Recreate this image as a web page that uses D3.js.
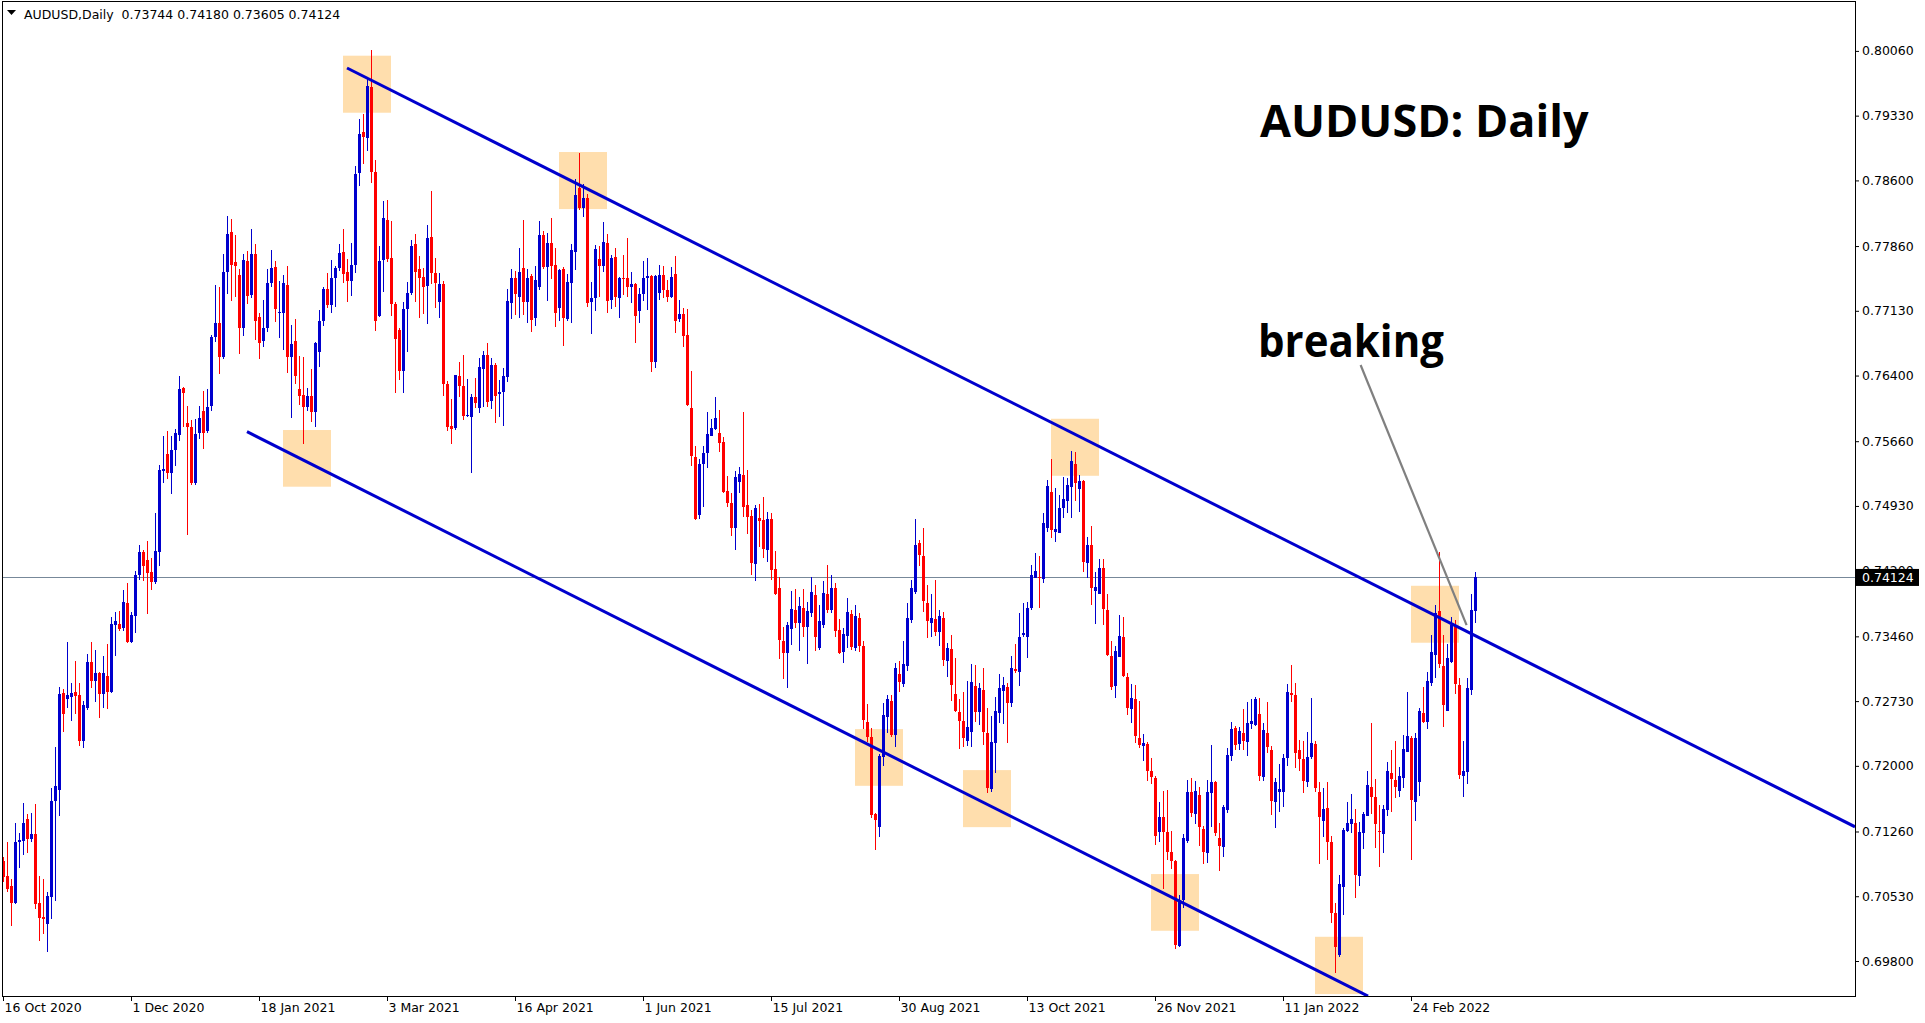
<!DOCTYPE html>
<html>
<head>
<meta charset="utf-8">
<script src="https://cdn.jsdelivr.net/npm/d3@7"></script>
<style>
  html, body { margin: 0; padding: 0; background: #fff; }
  svg { display: block; }
  text { white-space: pre; }
</style>
</head>
<body>
<svg id="chart" width="1925" height="1023"></svg>
<script>
// AUDUSD daily, one bar per trading day (index 0 = 16 Oct 2020)
const symbol = "AUDUSD,Daily";

const dateIdx = [0, 32, 64, 96, 128, 160, 192, 224, 256, 288, 320, 352];
const dateLabels = ["16 Oct 2020", "1 Dec 2020", "18 Jan 2021", "3 Mar 2021", "16 Apr 2021", "1 Jun 2021",
  "15 Jul 2021", "30 Aug 2021", "13 Oct 2021", "26 Nov 2021", "11 Jan 2022", "24 Feb 2022"];

const priceTicks = [0.80060, 0.79330, 0.78600, 0.77860, 0.77130, 0.76400, 0.75660, 0.74930,
  0.74200, 0.73460, 0.72730, 0.72000, 0.71260, 0.70530, 0.69800];

const opens = [
  0.70925,0.70756,0.70643,0.70454,0.71147,0.71155,0.71401,0.71179,0.71227,0.70454,
  0.70294,0.70220,0.70523,0.71609,0.71731,0.72818,0.72757,0.72778,0.72838,0.72798,
  0.72283,0.72657,0.73169,0.72959,0.73047,0.72806,0.73011,0.72838,0.73592,0.73600,
  0.73554,0.73836,0.73394,0.73692,0.74155,0.74409,0.74320,0.74184,0.74074,0.74409,
  0.75327,0.75516,0.75307,0.75560,0.75729,0.76263,0.75861,0.75823,0.75194,0.75755,
  0.76000,0.75778,0.76056,0.76838,0.76989,0.76612,0.77571,0.78022,0.77683,0.77533,
  0.76939,0.77691,0.77308,0.77770,0.77063,0.76793,0.76932,0.77447,0.77620,0.77108,
  0.77102,0.77421,0.76605,0.76789,0.76248,0.76180,0.76048,0.76169,0.75985,0.76662,
  0.77015,0.77379,0.77192,0.77503,0.77609,0.77793,0.77564,0.77469,0.77646,0.78687,
  0.79142,0.79081,0.79656,0.78698,0.77071,0.77702,0.78153,0.77728,0.77203,0.76913,
  0.76451,0.77147,0.77327,0.77883,0.77598,0.77507,0.77413,0.77958,0.77553,0.77232,
  0.77432,0.76301,0.75831,0.75805,0.76395,0.76285,0.75947,0.75936,0.76155,0.76037,
  0.76470,0.76631,0.76116,0.76519,0.76192,0.76211,0.76387,0.77221,0.77503,0.77289,
  0.77616,0.77232,0.77522,0.77052,0.77401,0.77984,0.77627,0.77891,0.77646,0.77165,
  0.77601,0.77037,0.77447,0.77796,0.78518,0.78285,0.78398,0.77232,0.77271,0.77710,
  0.77638,0.77898,0.77251,0.77740,0.77277,0.77503,0.77503,0.77401,0.77432,0.77131,
  0.77319,0.77503,0.77526,0.76556,0.77327,0.77533,0.77364,0.77289,0.77545,0.77037,
  0.77094,0.76857,0.76037,0.75478,0.74827,0.75402,0.75523,0.75722,0.75797,0.75749,
  0.75654,0.75101,0.74959,0.74684,0.75203,0.75278,0.74940,0.74816,0.74271,0.74797,
  0.74771,0.74433,0.74782,0.74219,0.74008,0.73407,0.73275,0.73542,0.73756,0.73613,
  0.73775,0.73568,0.73726,0.73925,0.73331,0.73587,0.73937,0.73756,0.74008,0.73531,
  0.73286,0.73467,0.73711,0.73324,0.73663,0.73350,0.72490,0.72321,0.71456,0.71313,
  0.72095,0.72553,0.72730,0.72347,0.73035,0.72922,0.73128,0.73643,0.73956,0.74508,
  0.74365,0.73839,0.73613,0.73655,0.73505,0.73669,0.73185,0.73317,0.72809,0.72603,
  0.72505,0.72279,0.72384,0.72903,0.72603,0.72854,0.72373,0.71735,0.72253,0.72591,
  0.72846,0.72891,0.72704,0.73091,0.73061,0.73471,0.73455,0.73775,0.74121,0.74132,
  0.74102,0.74677,0.75090,0.74639,0.74621,0.74903,0.74989,0.75147,0.75402,0.75121,
  0.75211,0.74283,0.74489,0.73974,0.73933,0.74226,0.73756,0.73238,0.72903,0.73230,
  0.73455,0.72997,0.72637,0.72749,0.72310,0.72223,0.72245,0.71941,0.71859,0.71257,
  0.71419,0.71257,0.71024,0.70926,0.69968,0.70486,0.71155,0.71701,0.71453,0.71670,
  0.71287,0.71013,0.71689,0.71820,0.71182,0.71087,0.71501,0.72110,0.72422,0.72250,
  0.72366,0.72265,0.72471,0.72460,0.72584,0.71870,0.72366,0.72178,0.71595,0.71701,
  0.71701,0.72084,0.72817,0.72798,0.72178,0.72076,0.71820,0.72095,0.72245,0.71708,
  0.71381,0.71520,0.71144,0.70336,0.69866,0.70636,0.71268,0.71340,0.71351,0.70761,
  0.71239,0.71437,0.71757,0.71651,0.71268,0.71231,0.71501,0.71922,0.71839,0.71715,
  0.71859,0.72159,0.72317,0.71595,0.71820,0.72598,0.72497,0.72937,0.73249,0.73745,
  0.73125,0.72621,0.73173,0.73587,0.72911,0.71885,0.71933,0.72854,0.73744
];

const highs = [
  0.70978,0.71139,0.70724,0.71360,0.71248,0.71581,0.71457,0.71468,0.71570,0.70756,
  0.70724,0.70576,0.71750,0.72214,0.72887,0.72870,0.73394,0.72939,0.73180,0.72931,
  0.72729,0.73261,0.73394,0.73301,0.73059,0.73241,0.73374,0.73676,0.73733,0.73744,
  0.73986,0.74066,0.73733,0.74199,0.74489,0.74428,0.74530,0.74348,0.74851,0.75396,
  0.75717,0.75778,0.75717,0.75794,0.76395,0.76274,0.76056,0.75898,0.75906,0.76056,
  0.76229,0.76248,0.76857,0.77421,0.77401,0.77770,0.78202,0.78165,0.77984,0.77601,
  0.77770,0.77804,0.78052,0.77883,0.77102,0.77251,0.77598,0.77815,0.77695,0.77469,
  0.77533,0.77635,0.76970,0.77037,0.76624,0.76612,0.76256,0.76474,0.76781,0.77139,
  0.77401,0.77559,0.77702,0.77635,0.77883,0.78052,0.77714,0.77898,0.78762,0.79292,
  0.79349,0.79743,0.80070,0.78830,0.77860,0.78368,0.78379,0.78142,0.77232,0.76932,
  0.77226,0.77458,0.77928,0.77996,0.77748,0.77616,0.78097,0.78480,0.77722,0.77553,
  0.77466,0.76338,0.76135,0.76406,0.76556,0.76631,0.76357,0.76192,0.76375,0.76601,
  0.76676,0.76770,0.76594,0.76538,0.76349,0.76481,0.77376,0.77601,0.77578,0.77841,
  0.78153,0.77601,0.77541,0.77635,0.78146,0.78029,0.78004,0.78173,0.77841,0.77598,
  0.77620,0.77545,0.77880,0.78612,0.78912,0.78556,0.78443,0.77458,0.77872,0.77860,
  0.78134,0.77992,0.77759,0.77834,0.77507,0.77759,0.77954,0.77564,0.77440,0.77383,
  0.77695,0.77728,0.77533,0.77533,0.77646,0.77635,0.77477,0.77627,0.77751,0.77251,
  0.77158,0.77150,0.76454,0.75609,0.75459,0.75605,0.75992,0.75910,0.76161,0.76011,
  0.75710,0.75267,0.75072,0.75323,0.75372,0.75992,0.75335,0.74884,0.74940,0.74951,
  0.75034,0.74858,0.74847,0.74421,0.74125,0.73561,0.73624,0.73970,0.73993,0.73906,
  0.73993,0.73850,0.74125,0.74038,0.73813,0.74083,0.74264,0.74151,0.74057,0.73655,
  0.73550,0.73888,0.73756,0.73813,0.73719,0.73410,0.72696,0.72422,0.71471,0.72133,
  0.72704,0.72798,0.72798,0.73155,0.73181,0.73410,0.73839,0.74094,0.74782,0.74545,
  0.74677,0.74038,0.73937,0.74094,0.73756,0.73730,0.73381,0.73474,0.73218,0.72749,
  0.72828,0.72956,0.73147,0.73136,0.72930,0.73099,0.72648,0.72561,0.72772,0.73035,
  0.72997,0.72930,0.73238,0.73373,0.73726,0.73832,0.73850,0.74264,0.74396,0.74365,
  0.74847,0.75222,0.75455,0.75128,0.75053,0.75252,0.75241,0.75549,0.75541,0.75278,
  0.75222,0.74576,0.74703,0.74188,0.74328,0.74328,0.73937,0.73407,0.73350,0.73700,
  0.73681,0.73049,0.72922,0.72911,0.72730,0.72358,0.72265,0.72084,0.71888,0.71595,
  0.71715,0.71727,0.71268,0.70937,0.70543,0.71227,0.71839,0.71859,0.71828,0.71764,
  0.71321,0.71839,0.72234,0.71828,0.71351,0.71558,0.72197,0.72497,0.72448,0.72440,
  0.72637,0.72716,0.72749,0.72772,0.72761,0.72479,0.72716,0.72223,0.71865,0.72017,
  0.72133,0.72922,0.73136,0.72930,0.72290,0.72279,0.72377,0.72767,0.72279,0.71820,
  0.71746,0.71820,0.71208,0.70456,0.70768,0.71302,0.71595,0.71682,0.71509,0.71363,
  0.71482,0.71941,0.72479,0.71847,0.71558,0.71558,0.72039,0.72178,0.72279,0.71989,
  0.72347,0.72828,0.72339,0.72366,0.72655,0.72885,0.73061,0.73474,0.73813,0.74407,
  0.73474,0.73373,0.73674,0.73643,0.72986,0.72279,0.72986,0.73933,0.74180
];

const lows = [
  0.70696,0.70576,0.70200,0.70443,0.70845,0.70994,0.71018,0.71139,0.70382,0.70020,
  0.70108,0.69907,0.70269,0.70482,0.71437,0.72383,0.72657,0.72508,0.72588,0.72226,
  0.72206,0.72629,0.72878,0.72718,0.72536,0.72657,0.72645,0.72818,0.73241,0.73523,
  0.73515,0.73382,0.73382,0.73503,0.74094,0.74087,0.73716,0.73986,0.74046,0.74248,
  0.75194,0.75234,0.75061,0.75375,0.75665,0.75816,0.74602,0.75166,0.75161,0.75681,
  0.75568,0.75749,0.76003,0.76781,0.76414,0.76586,0.77319,0.77244,0.77282,0.76643,
  0.76849,0.77203,0.77271,0.76800,0.76583,0.76718,0.76894,0.77395,0.77007,0.76820,
  0.76688,0.76432,0.75918,0.76301,0.76068,0.75625,0.76000,0.75873,0.75823,0.76499,
  0.76962,0.77165,0.77108,0.77169,0.77578,0.77440,0.77232,0.77300,0.77559,0.78540,
  0.78785,0.78935,0.78574,0.76905,0.77056,0.77345,0.77683,0.77074,0.76206,0.76349,
  0.76206,0.76669,0.77308,0.77232,0.77045,0.77094,0.76981,0.77432,0.77165,0.77045,
  0.76169,0.75778,0.75625,0.75786,0.76161,0.75898,0.75936,0.75304,0.76030,0.75981,
  0.76042,0.76048,0.76019,0.75868,0.75936,0.75834,0.76330,0.77037,0.77082,0.77052,
  0.77082,0.76989,0.76894,0.76962,0.77364,0.77601,0.77244,0.77488,0.76950,0.77018,
  0.76733,0.77018,0.76996,0.77590,0.78266,0.78191,0.77176,0.76868,0.77131,0.77289,
  0.77571,0.77102,0.77150,0.77169,0.77045,0.77308,0.77289,0.77221,0.76763,0.76996,
  0.77244,0.77139,0.76443,0.76488,0.77251,0.77271,0.77232,0.77271,0.76876,0.77007,
  0.76725,0.76056,0.75383,0.74771,0.74782,0.74921,0.75361,0.75718,0.75786,0.75534,
  0.75072,0.74914,0.74594,0.74433,0.75079,0.74801,0.74613,0.74151,0.74087,0.74463,
  0.74339,0.74301,0.74094,0.73925,0.73204,0.72978,0.72880,0.73362,0.73550,0.73297,
  0.73455,0.73147,0.73681,0.73297,0.73305,0.73557,0.73719,0.73719,0.73455,0.73260,
  0.73155,0.73324,0.73305,0.73297,0.73286,0.72415,0.72271,0.71408,0.71050,0.71200,
  0.72001,0.72366,0.72328,0.72215,0.72835,0.72885,0.73072,0.73613,0.73937,0.74256,
  0.73737,0.73444,0.73455,0.73463,0.73350,0.73128,0.73004,0.72734,0.72603,0.72189,
  0.72208,0.72226,0.72215,0.72497,0.72460,0.72234,0.71696,0.71708,0.71915,0.72479,
  0.72471,0.72253,0.72666,0.73043,0.72899,0.73448,0.73212,0.73756,0.74114,0.73775,
  0.74064,0.74639,0.74565,0.74526,0.74621,0.74790,0.74853,0.74790,0.74989,0.74858,
  0.74188,0.74114,0.73813,0.73595,0.73933,0.73587,0.73238,0.72854,0.72761,0.73223,
  0.72997,0.72572,0.72486,0.72260,0.72197,0.72057,0.71832,0.71794,0.71107,0.71137,
  0.70611,0.70937,0.70836,0.69931,0.69960,0.70393,0.71133,0.71426,0.71343,0.71095,
  0.70892,0.70900,0.71306,0.71212,0.70817,0.70975,0.71464,0.72057,0.72178,0.72178,
  0.72178,0.72114,0.72415,0.72448,0.71832,0.71832,0.72141,0.71445,0.71295,0.71482,
  0.71538,0.71997,0.72722,0.71971,0.71941,0.71696,0.71764,0.72076,0.71708,0.70892,
  0.71200,0.70937,0.70231,0.69667,0.69847,0.70317,0.71250,0.71239,0.70513,0.70648,
  0.71058,0.71434,0.71456,0.71076,0.70855,0.71013,0.71434,0.71482,0.71640,0.71651,
  0.71746,0.72152,0.70937,0.71377,0.71663,0.72486,0.72415,0.72899,0.72993,0.73099,
  0.72441,0.72621,0.73162,0.72809,0.71851,0.71651,0.71794,0.72798,0.73605
];

const closes = [
  0.70745,0.70615,0.70454,0.71147,0.71168,0.71360,0.71179,0.71227,0.70443,0.70289,
  0.70269,0.70530,0.71609,0.71771,0.72806,0.72588,0.72798,0.72818,0.72790,0.72283,
  0.72685,0.73169,0.72959,0.73047,0.72806,0.73047,0.72838,0.73600,0.73631,0.73543,
  0.73845,0.73394,0.73700,0.74146,0.74409,0.74256,0.74175,0.74074,0.74420,0.75335,
  0.75347,0.75307,0.75560,0.75758,0.76248,0.76206,0.75823,0.75194,0.75737,0.75918,
  0.75755,0.76048,0.76838,0.76996,0.76612,0.77564,0.77996,0.77646,0.77635,0.76939,
  0.77702,0.77300,0.77770,0.77015,0.76770,0.76932,0.77447,0.77609,0.77147,0.77116,
  0.77440,0.76605,0.76755,0.76398,0.76173,0.76048,0.76169,0.75985,0.76770,0.77015,
  0.77379,0.77192,0.77503,0.77609,0.77785,0.77541,0.77469,0.77646,0.78672,0.79123,
  0.79086,0.79668,0.78698,0.77015,0.77695,0.78179,0.77714,0.77203,0.76808,0.76451,
  0.77150,0.77334,0.77864,0.77571,0.77503,0.77401,0.77947,0.77553,0.77447,0.77432,
  0.76301,0.75816,0.75797,0.76406,0.76285,0.75944,0.75955,0.76155,0.76094,0.76493,
  0.76631,0.76105,0.76519,0.76169,0.76214,0.76395,0.77240,0.77503,0.77319,0.77564,
  0.77232,0.77503,0.77026,0.77477,0.77984,0.77627,0.77891,0.77635,0.77108,0.77590,
  0.77052,0.77451,0.77815,0.78435,0.78285,0.78398,0.77221,0.77271,0.77823,0.77635,
  0.77902,0.77244,0.77728,0.77289,0.77496,0.77496,0.77401,0.77432,0.77074,0.77319,
  0.77503,0.77522,0.76556,0.77522,0.77533,0.77364,0.77289,0.77507,0.77018,0.77094,
  0.76849,0.76068,0.75496,0.74782,0.75402,0.75523,0.75737,0.75805,0.75925,0.75643,
  0.75090,0.74959,0.74684,0.75259,0.75290,0.74921,0.74808,0.74283,0.74910,0.74763,
  0.74444,0.74782,0.74207,0.73937,0.73418,0.73275,0.73587,0.73768,0.73613,0.73801,
  0.73568,0.73745,0.73956,0.73455,0.73636,0.73951,0.73756,0.74001,0.73519,0.73268,
  0.73482,0.73730,0.73336,0.73689,0.73350,0.72516,0.72321,0.71445,0.71388,0.72110,
  0.72572,0.72753,0.72347,0.73099,0.72948,0.73147,0.73663,0.74001,0.74489,0.74376,
  0.73858,0.73632,0.73663,0.73512,0.73689,0.73192,0.73324,0.72911,0.72621,0.72505,
  0.72310,0.72434,0.72941,0.72603,0.72873,0.72384,0.71746,0.72271,0.72617,0.72873,
  0.72911,0.72711,0.73106,0.73072,0.73455,0.73500,0.73775,0.74151,0.74196,0.74114,
  0.74734,0.75158,0.74658,0.74670,0.74903,0.75008,0.75166,0.75436,0.75192,0.75211,
  0.74301,0.74489,0.74001,0.74019,0.74233,0.73768,0.73249,0.72891,0.73297,0.73463,
  0.73016,0.72655,0.72761,0.72339,0.72234,0.72260,0.71941,0.71877,0.71212,0.71419,
  0.71257,0.71031,0.70930,0.69979,0.70486,0.71182,0.71701,0.71471,0.71715,0.71306,
  0.71031,0.71701,0.71820,0.71245,0.71095,0.71532,0.72121,0.72411,0.72234,0.72395,
  0.72283,0.72479,0.72505,0.72753,0.71888,0.72403,0.72208,0.71606,0.71814,0.71738,
  0.72084,0.72828,0.72798,0.72147,0.72076,0.71832,0.72095,0.72253,0.71746,0.71426,
  0.71513,0.71144,0.70336,0.69953,0.70667,0.71276,0.71351,0.71400,0.70768,0.71250,
  0.71456,0.71783,0.71644,0.71343,0.71257,0.71509,0.71941,0.71847,0.71757,0.71885,
  0.72189,0.72336,0.71614,0.72317,0.72617,0.72497,0.72959,0.73286,0.73726,0.73147,
  0.72685,0.73212,0.73587,0.72922,0.71896,0.71944,0.72873,0.73756,0.74124
];

// channel lines and the pointer line: [bar index, price]
const upperLine = [[86, 0.79867], [463, 0.71313]];
const lowerLine = [[61, 0.75767], [341.25, 0.69404]];
const pointerLine = [[339.4, 0.76519], [365.9, 0.73587]];

// highlight boxes: [from bar, to bar, top price, bottom price]
const boxes = [
  [85, 97, 0.80006, 0.79363],
  [70, 82, 0.75786, 0.75147],
  [139, 151, 0.78920, 0.78277],
  [213, 225, 0.72414, 0.71775],
  [240, 252, 0.71952, 0.71309],
  [262, 274, 0.75913, 0.75270],
  [287, 299, 0.70780, 0.70141],
  [328, 340, 0.70073, 0.69427],
  [352, 364, 0.74030, 0.73388]
];

const W = 1925, H = 1023;
const plotL = 2, plotT = 2, plotR = 1855, plotB = 996;
const bullColor = "#0000CD", bearColor = "#FF0000";
const font = "'DejaVu Sans', Verdana, sans-serif";

const svg = d3.select("#chart");
svg.append("rect").attr("width", W).attr("height", H).attr("fill", "#fff");

const x = d3.scaleLinear().domain([0, 463]).range([3, 1855]);
const y = d3.scaleLinear().domain([0.80060, 0.69800]).range([50.9, 961.0]);

svg.append("clipPath").attr("id", "plot")
  .append("rect").attr("x", plotL + 1).attr("y", plotT).attr("width", plotR - plotL - 1).attr("height", plotB - plotT);

const plot = svg.append("g").attr("clip-path", "url(#plot)");

// boxes
plot.selectAll("rect.box").data(boxes).join("rect")
  .attr("class", "box")
  .attr("x", d => x(d[0]))
  .attr("width", d => x(d[1]) - x(d[0]))
  .attr("y", d => y(d[2]))
  .attr("height", d => y(d[3]) - y(d[2]))
  .attr("fill", "#FFDEAD");

// last price line
const n = closes.length - 1;
plot.append("line")
  .attr("x1", plotL).attr("x2", plotR)
  .attr("y1", Math.round(y(closes[n])) + 0.5).attr("y2", Math.round(y(closes[n])) + 0.5)
  .attr("stroke", "#778899").attr("stroke-width", 1);

// candles
const bars = d3.range(closes.length).map(i => ({ i, o: opens[i], h: highs[i], l: lows[i], c: closes[i] }));
const candles = plot.append("g").attr("shape-rendering", "crispEdges");

candles.selectAll("line").data(bars).join("line")
  .attr("x1", d => Math.round(x(d.i)) + 0.5)
  .attr("x2", d => Math.round(x(d.i)) + 0.5)
  .attr("y1", d => y(d.h))
  .attr("y2", d => y(d.l))
  .attr("stroke", d => d.c >= d.o ? bullColor : bearColor)
  .attr("stroke-width", 1);

candles.selectAll("rect").data(bars).join("rect")
  .attr("x", d => Math.round(x(d.i)) - 1)
  .attr("width", 3)
  .attr("y", d => y(Math.max(d.o, d.c)))
  .attr("height", d => Math.max(1, Math.abs(y(d.o) - y(d.c))))
  .attr("fill", d => d.c >= d.o ? bullColor : bearColor);

// trend lines
const seg = d3.line().x(d => x(d[0])).y(d => y(d[1]));
plot.selectAll("path.trend").data([upperLine, lowerLine]).join("path")
  .attr("class", "trend")
  .attr("d", seg)
  .attr("fill", "none")
  .attr("stroke", "#0000CD")
  .attr("stroke-width", 3);

plot.append("path")
  .attr("d", seg(pointerLine))
  .attr("fill", "none")
  .attr("stroke", "#808080")
  .attr("stroke-width", 2.2);

// annotations
plot.append("text")
  .attr("x", 1260).attr("y", 137)
  .attr("font-family", "'Open Sans', sans-serif").attr("font-weight", 700)
  .attr("font-size", 45).attr("fill", "#000")
  .text("AUDUSD: Daily");

plot.append("text")
  .attr("x", 1258).attr("y", 357)
  .attr("font-family", "'Open Sans', sans-serif").attr("font-weight", 700)
  .attr("font-size", 44).attr("fill", "#000")
  .attr("textLength", 186).attr("lengthAdjust", "spacingAndGlyphs")
  .text("breaking");

// header
svg.append("path").attr("d", "M7,10 L16,10 L11.5,15 Z").attr("fill", "#000");
const f5 = d3.format(".5f");
svg.append("text")
  .attr("x", 24).attr("y", 19)
  .attr("font-family", font).attr("font-size", 12.5).attr("fill", "#000")
  .text(`${symbol}  ${f5(opens[n])} ${f5(highs[n])} ${f5(lows[n])} ${f5(closes[n])}`);

// frame
svg.append("rect")
  .attr("x", plotL + 0.5).attr("y", plotT - 0.5)
  .attr("width", plotR - plotL).attr("height", plotB - plotT + 1)
  .attr("fill", "none").attr("stroke", "#000").attr("stroke-width", 1)
  .attr("shape-rendering", "crispEdges");

// price axis
const yAxis = d3.axisRight(y).tickValues(priceTicks).tickSize(4).tickPadding(3).tickFormat(f5);
const gy = svg.append("g").attr("transform", `translate(${plotR},0)`).call(yAxis);
gy.select(".domain").remove();
gy.selectAll("text").attr("font-family", font).attr("font-size", 12.5).attr("fill", "#000");
gy.selectAll("line").attr("stroke", "#000");

// date axis
const xAxis = d3.axisBottom(x).tickValues(dateIdx).tickSize(5)
  .tickFormat((d, k) => dateLabels[k]);
const gx = svg.append("g").attr("transform", `translate(0,${plotB})`).call(xAxis);
gx.select(".domain").remove();
gx.selectAll("text")
  .attr("font-family", font).attr("font-size", 12.5).attr("fill", "#000")
  .attr("text-anchor", "start").attr("x", 1).attr("y", 7);
gx.selectAll("line").attr("stroke", "#000");

// last price label
const ly = y(closes[n]);
svg.append("rect")
  .attr("x", plotR + 1).attr("y", ly - 8.5)
  .attr("width", 63).attr("height", 17)
  .attr("fill", "#000");
svg.append("text")
  .attr("x", plotR + 7).attr("y", ly)
  .attr("dy", "0.36em")
  .attr("font-family", font).attr("font-size", 12.5).attr("fill", "#fff")
  .text(f5(closes[n]));
</script>
</body>
</html>
